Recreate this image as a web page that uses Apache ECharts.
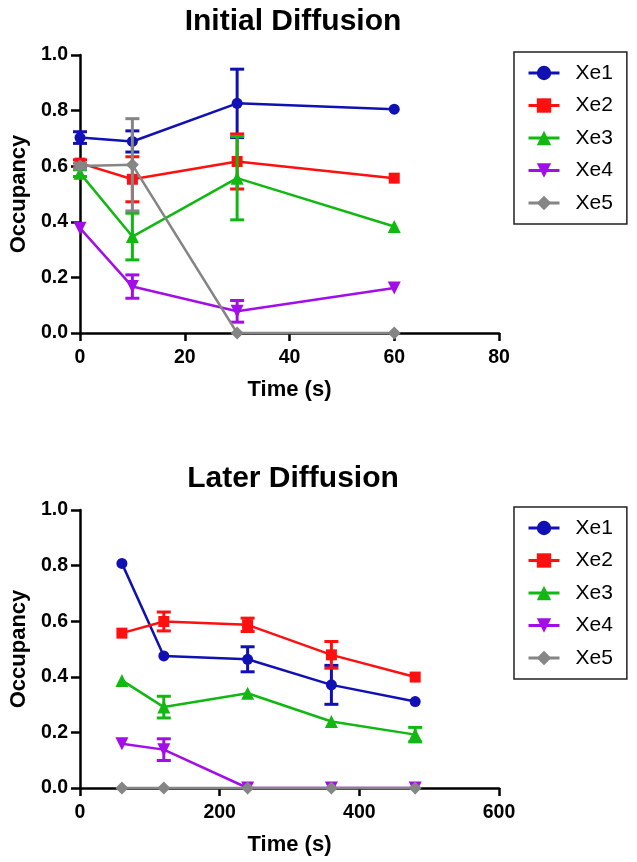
<!DOCTYPE html>
<html>
<head>
<meta charset="utf-8">
<script src="https://cdn.jsdelivr.net/npm/echarts@6/dist/echarts.min.js"></script>
<style>html,body{margin:0;padding:0;background:#fff}#c{width:637px;height:862px}</style>
</head>
<body>
<div id="c"></div>
<script>
// ---------- data ----------
const seriesNames = ['Xe1', 'Xe2', 'Xe3', 'Xe4', 'Xe5'];

// Initial Diffusion (time in s)
const timeInitial = [0, 10, 30, 60];
const initXe1 = [0.703, 0.689, 0.826, 0.805];
const initXe2 = [0.611, 0.553, 0.617, 0.557];
const initXe3 = [0.575, 0.347, 0.557, 0.383];
const initXe4 = [0.377, 0.167, 0.078, 0.162];
const initXe5 = [0.601, 0.605, 0.0, 0.0];
const initErrXe1 = [0.021, 0.038, 0.123, 0];
const initErrXe2 = [0.012, 0.081, 0.099, 0];
const initErrXe3 = [0.012, 0.084, 0.150, 0];
const initErrXe4 = [0, 0.042, 0.039, 0];
const initErrXe5 = [0.010, 0.166, 0, 0];

// Later Diffusion (time in s)
const timeLater = [60, 120, 240, 360, 480];
const laterXe1 = [0.808, 0.475, 0.463, 0.371, 0.311];
const laterXe2 = [0.557, 0.599, 0.587, 0.479, 0.399];
const laterXe3 = [0.387, 0.291, 0.341, 0.239, 0.192];
const laterXe4 = [0.159, 0.138, 0.0, 0.0, 0.0];
const laterXe5 = [0.0, 0.0, 0.0, 0.0, 0.0];
const laterErrXe1 = [0, 0, 0.045, 0.070, 0];
const laterErrXe2 = [0, 0.034, 0.024, 0.048, 0];
const laterErrXe3 = [0, 0.039, 0, 0, 0.026];
const laterErrXe4 = [0, 0.039, 0, 0, 0];
const laterErrXe5 = [0, 0, 0, 0, 0];

// axis ticks
const yTicks = [0.0, 0.2, 0.4, 0.6, 0.8, 1.0];
const xTicksInitial = [0, 20, 40, 60, 80];
const xTicksLater = [0, 200, 400, 600];

// ---------- styles ----------
const colors = ['#1010b4', '#ff1010', '#12b812', '#a30ee8', '#858585'];
const symbols = ['circle', 'rect', 'triangle', 'triangle', 'diamond'];
const symbolRot = [0, 0, 0, 180, 0];
const symbolSizes = [11, 11, 13, 13, 13];
const FONT = '"Liberation Sans", Arial, Helvetica, sans-serif';

const initVals = [initXe1, initXe2, initXe3, initXe4, initXe5];
const initErrs = [initErrXe1, initErrXe2, initErrXe3, initErrXe4, initErrXe5];
const laterVals = [laterXe1, laterXe2, laterXe3, laterXe4, laterXe5];
const laterErrs = [laterErrXe1, laterErrXe2, laterErrXe3, laterErrXe4, laterErrXe5];

function pairs(xs, ys) { return xs.map((x, i) => [x, ys[i]]); }
function triples(xs, ys, es) { return xs.map((x, i) => [x, ys[i], es[i]]); }

function errRender(color) {
  return function (params, api) {
    const x = api.value(0), y = api.value(1), e = api.value(2);
    if (!e) return null;
    const top = api.coord([x, y + e]);
    const bot = api.coord([x, y - e]);
    const hw = 7;
    const st = { stroke: color, lineWidth: 3 };
    return {
      type: 'group',
      children: [
        { type: 'line', shape: { x1: top[0], y1: top[1], x2: bot[0], y2: bot[1] }, style: st },
        { type: 'line', shape: { x1: top[0] - hw, y1: top[1], x2: top[0] + hw, y2: top[1] }, style: st },
        { type: 'line', shape: { x1: bot[0] - hw, y1: bot[1], x2: bot[0] + hw, y2: bot[1] }, style: st }
      ]
    };
  };
}

const series = [];
function addChart(idx, xs, vals, errs) {
  for (let i = 0; i < 5; i++) {
    series.push({
      name: 'err' + idx + '_' + i,
      type: 'custom',
      xAxisIndex: idx, yAxisIndex: idx,
      renderItem: errRender(colors[i]),
      data: triples(xs, vals[i], errs[i]),
      clip: false,
      z: 2 + i,
      silent: true
    });
    series.push({
      name: seriesNames[i],
      type: 'line',
      xAxisIndex: idx, yAxisIndex: idx,
      data: pairs(xs, vals[i]),
      symbol: symbols[i],
      symbolRotate: symbolRot[i],
      symbolSize: symbolSizes[i],
      showAllSymbol: true,
      clip: false,
      animation: false,
      z: 2 + i,
      lineStyle: { color: colors[i], width: 2.5 },
      itemStyle: { color: colors[i] }
    });
  }
}
addChart(0, timeInitial, initVals, initErrs);
addChart(1, timeLater, laterVals, laterErrs);

function yAxis(gi) {
  return {
    type: 'value', gridIndex: gi, min: yTicks[0], max: yTicks[yTicks.length - 1], interval: 0.2,
    name: 'Occupancy', nameLocation: 'middle', nameGap: 44,
    nameTextStyle: { fontFamily: FONT, fontSize: 22, fontWeight: 'bold', color: '#000' },
    axisLine: { show: true, lineStyle: { color: '#000', width: 2.5 } },
    axisTick: { show: true, length: 9, lineStyle: { color: '#000', width: 2.5 } },
    axisLabel: { margin: 12, fontFamily: FONT, fontSize: 19.5, fontWeight: 'bold', color: '#000',
      formatter: v => v.toFixed(1) },
    splitLine: { show: false }
  };
}
function xAxis(gi, ticks) {
  return {
    type: 'value', gridIndex: gi, min: ticks[0], max: ticks[ticks.length - 1], interval: ticks[1] - ticks[0],
    name: 'Time (s)', nameLocation: 'middle', nameGap: 46,
    nameTextStyle: { fontFamily: FONT, fontSize: 22, fontWeight: 'bold', color: '#000' },
    axisLine: { show: true, onZero: false, lineStyle: { color: '#000', width: 2.5 } },
    axisTick: { show: true, length: 8, lineStyle: { color: '#000', width: 2.5 } },
    axisLabel: { margin: 15, fontFamily: FONT, fontSize: 19.5, fontWeight: 'bold', color: '#000' },
    splitLine: { show: false }
  };
}
function legend(top) {
  return {
    data: seriesNames,
    orient: 'vertical',
    left: 514, top: top,
    itemWidth: 31, itemHeight: 18,
    itemGap: 8.5,
    padding: [9, 14, 9, 13],
    borderColor: '#222', borderWidth: 1.5,
    selectedMode: false,
    lineStyle: { width: 3 },
    textStyle: { fontFamily: FONT, fontSize: 21, color: '#000', lineHeight: 24, padding: [0, 0, 0, 11] }
  };
}

const option = {
  animation: false,
  backgroundColor: '#fff',
  title: [
    { text: 'Initial Diffusion', left: 288, top: 2, textAlign: 'center',
      textStyle: { fontFamily: FONT, fontSize: 30, fontWeight: 'bold', color: '#000' } },
    { text: 'Later Diffusion', left: 288, top: 459, textAlign: 'center',
      textStyle: { fontFamily: FONT, fontSize: 30, fontWeight: 'bold', color: '#000' } }
  ],
  legend: [legend(52), legend(507)],
  grid: [
    { left: 80, top: 55, width: 419, height: 278 },
    { left: 80, top: 510, width: 419, height: 278 }
  ],
  xAxis: [xAxis(0, xTicksInitial), xAxis(1, xTicksLater)],
  yAxis: [yAxis(0), yAxis(1)],
  series: series
};

const chart = echarts.init(document.getElementById('c'), null, { renderer: 'canvas' });
chart.setOption(option);
</script>
</body>
</html>
